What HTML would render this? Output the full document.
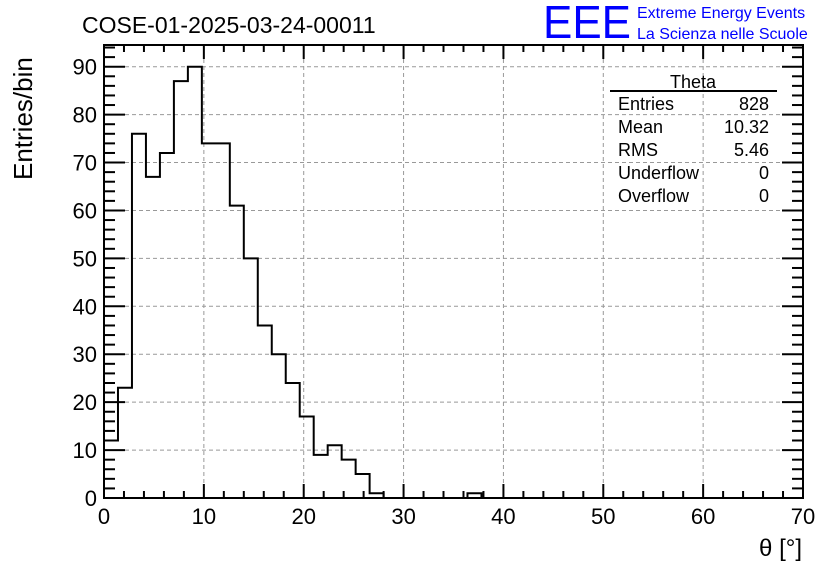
<!DOCTYPE html>
<html><head><meta charset="utf-8"><style>
body{margin:0;background:#fff;width:836px;height:572px;overflow:hidden}
svg{font-family:"Liberation Sans",sans-serif}
</style></head><body>
<svg id="c" width="836" height="572">
<rect width="836" height="572" fill="#fff"/>
<text x="82" y="33" font-size="23">COSE-01-2025-03-24-00011</text>
<text x="543" y="38" font-size="46" fill="#0000ff" textLength="88" lengthAdjust="spacingAndGlyphs">EEE</text>
<text x="637" y="18" font-size="16" fill="#0000ff">Extreme Energy Events</text>
<text x="637" y="39" font-size="16" fill="#0000ff">La Scienza nelle Scuole</text>
<g id="grid"></g>
<g id="ticks"></g>
<path id="hist" fill="none" stroke="#000" stroke-width="2"/>
<rect x="104" y="45" width="699" height="453" fill="none" stroke="#000" stroke-width="2"/>
<text transform="translate(32,180) rotate(-90)" font-size="26">Entries/bin</text>
<text x="802" y="556" font-size="24" text-anchor="end">θ [°]</text>
<g>
<text x="693" y="88" font-size="18" text-anchor="middle">Theta</text>
<line x1="610" y1="91" x2="777" y2="91" stroke="#000" stroke-width="2"/>
<text x="618" y="110" font-size="18">Entries</text><text x="769" y="110" font-size="18" text-anchor="end">828</text>
<text x="618" y="133" font-size="18">Mean</text><text x="769" y="133" font-size="18" text-anchor="end">10.32</text>
<text x="618" y="156" font-size="18">RMS</text><text x="769" y="156" font-size="18" text-anchor="end">5.46</text>
<text x="618" y="179" font-size="18">Underflow</text><text x="769" y="179" font-size="18" text-anchor="end">0</text>
<text x="618" y="202" font-size="18">Overflow</text><text x="769" y="202" font-size="18" text-anchor="end">0</text>
</g>
</svg>
<script>
const binWidth = 1.4;
const counts = [12,23,76,67,72,87,90,74,74,61,50,36,30,24,17,9,11,8,5,1,0,0,0,0,0,0,1,0,0,0,0,0,0,0,0,0,0,0,0,0,0,0,0,0,0,0,0,0,0,0];
const xTicks = [0,10,20,30,40,50,60,70];
const yTicks = [0,10,20,30,40,50,60,70,80,90];
const X0=104,X1=803,Y0=498,Y90=66.7;
const sx=v=>X0+(X1-X0)*v/70;
const sy=v=>Y0-(Y0-Y90)*v/90;
const NS="http://www.w3.org/2000/svg";
const svg=document.getElementById('c'),grid=document.getElementById('grid'),tk=document.getElementById('ticks');
function mk(tag,attrs,parent){const e=document.createElementNS(NS,tag);for(const k in attrs)e.setAttribute(k,attrs[k]);parent.appendChild(e);return e;}
xTicks.forEach((v,i)=>{
  if(v>0&&v<70){const l=mk('line',{x1:sx(v),x2:sx(v),y1:45,y2:498,stroke:'#999','stroke-dasharray':'4,3'},grid);
  
  }
  const t=mk('text',{x:sx(v),y:524,'font-size':22,'text-anchor':'middle'},svg);t.textContent=v;
  
  
  mk('line',{x1:sx(v),x2:sx(v),y1:498,y2:484,stroke:'#000','stroke-width':2},tk);
  mk('line',{x1:sx(v),x2:sx(v),y1:45,y2:59,stroke:'#000','stroke-width':2},tk);
  if(v<70)for(let j=1;j<5;j++){const m=sx(v+2*j);
    mk('line',{x1:m,x2:m,y1:498,y2:491,stroke:'#000','stroke-width':2},tk);
    mk('line',{x1:m,x2:m,y1:45,y2:52,stroke:'#000','stroke-width':2},tk);}
});
yTicks.forEach(v=>{
  if(v>0){const l=mk('line',{x1:104,x2:803,y1:sy(v),y2:sy(v),stroke:'#999','stroke-dasharray':'4,3'},grid);
  
  }
  const t=mk('text',{x:97,y:sy(v)+8,'font-size':22,'text-anchor':'end'},svg);t.textContent=v;
  
  
  mk('line',{x1:104,x2:125,y1:sy(v),y2:sy(v),stroke:'#000','stroke-width':2},tk);
  mk('line',{x1:803,x2:782,y1:sy(v),y2:sy(v),stroke:'#000','stroke-width':2},tk);
});
for(let v=2;v<=94;v+=2){if(v%10===0||sy(v)<46)continue;
  mk('line',{x1:104,x2:115,y1:sy(v),y2:sy(v),stroke:'#000','stroke-width':2},tk);
  mk('line',{x1:803,x2:792,y1:sy(v),y2:sy(v),stroke:'#000','stroke-width':2},tk);}
let d='M'+sx(0)+','+sy(0);
counts.forEach((c,i)=>{d+=' L'+sx(i*binWidth)+','+sy(c)+' L'+sx((i+1)*binWidth)+','+sy(c);});
d+=' L'+sx(counts.length*binWidth)+','+sy(0);
document.getElementById('hist').setAttribute('d',d);
</script>
</body></html>
